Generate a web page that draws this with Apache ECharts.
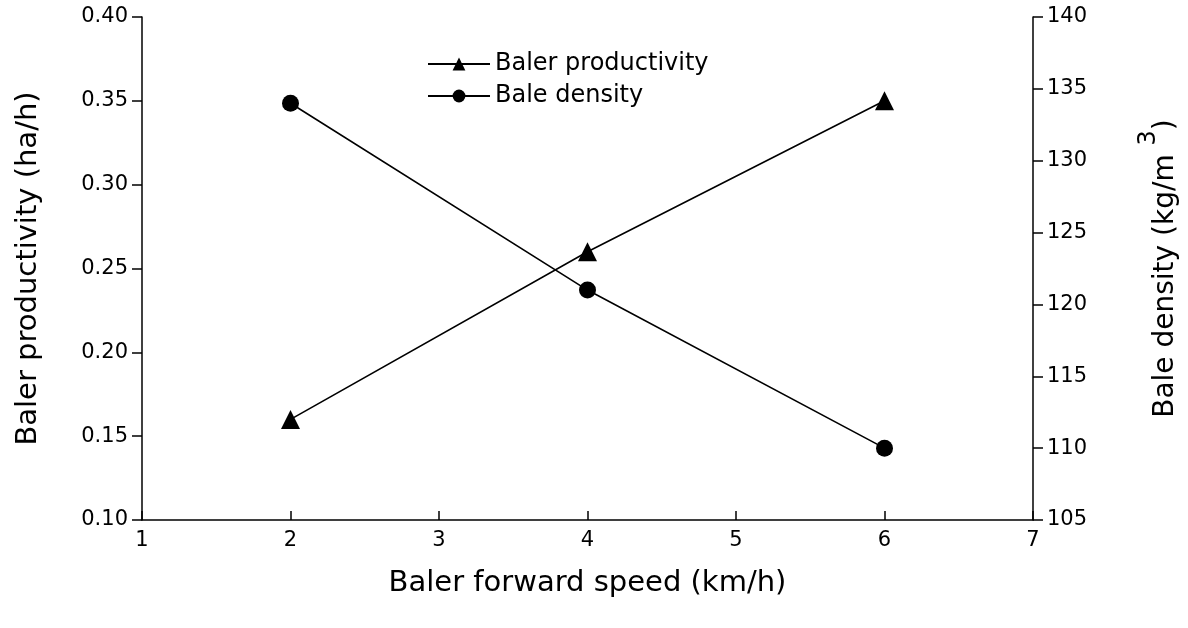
<!DOCTYPE html>
<html>
<head>
<meta charset="utf-8">
<script src="https://cdn.jsdelivr.net/npm/echarts@6/dist/echarts.min.js"></script>
<style>html,body{margin:0;padding:0;background:#fff;}#c{width:1188px;height:628px;}</style>
</head>
<body>
<div id="c"></div>
<script>
const speeds = [2, 4, 6];
const productivity = [0.16, 0.26, 0.35];
const density = [134, 121, 110];
const seriesNames = ['Baler productivity', 'Bale density'];
const xTitle = 'Baler forward speed (km/h)';
const yLeftTitle = 'Baler productivity (ha/h)';

const FONT = 'DejaVu Sans, sans-serif';
const chart = echarts.init(document.getElementById('c'), null, {renderer: 'canvas'});
const axisCommon = {
  axisLine: {show: true, onZero: false, lineStyle: {color: '#000', width: 1.5}},
  axisTick: {show: true, length: 10, lineStyle: {color: '#000', width: 1.5}},
  splitLine: {show: false},
  axisLabel: {color: '#000', fontFamily: FONT, fontSize: 21},
  nameTextStyle: {color: '#000', fontFamily: FONT, fontSize: 29}
};
chart.setOption({
  animation: false,
  backgroundColor: '#fff',
  grid: {left: 142, right: 155, top: 17, bottom: 108, containLabel: false, outerBoundsMode: 'none'},
  legend: {
    orient: 'vertical', left: 422, top: 47,
    itemWidth: 62, itemHeight: 16, itemGap: 8,
    textStyle: {color: '#000', fontFamily: FONT, fontSize: 24},
    data: seriesNames
  },
  xAxis: Object.assign({}, axisCommon, {
    type: 'value', min: 1, max: 7, interval: 1,
    axisTick: {show: true, inside: true, length: 9, lineStyle: {color: '#000', width: 1.5}},
    axisLabel: Object.assign({}, axisCommon.axisLabel, {margin: 10}),
    name: xTitle, nameLocation: 'middle', nameGap: 49
  }),
  yAxis: [
    Object.assign({}, axisCommon, {
      type: 'value', position: 'left', min: 0.1, max: 0.4, interval: 0.05,
      axisLabel: Object.assign({}, axisCommon.axisLabel, {margin: 14, formatter: v => v.toFixed(2)}),
      name: yLeftTitle, nameLocation: 'middle', nameGap: 99, nameRotate: 90
    }),
    Object.assign({}, axisCommon, {
      type: 'value', position: 'right', min: 105, max: 140, interval: 5,
      axisLabel: Object.assign({}, axisCommon.axisLabel, {margin: 14}),
      name: 'Bale density (kg/m {sup|3})', nameLocation: 'middle', nameGap: 104, nameRotate: 90,
      nameTextStyle: {color: '#000', fontFamily: FONT, fontSize: 28,
        rich: {sup: {color: '#000', fontFamily: FONT, fontSize: 24, padding: [0, 0, 34, 0]}}}
    })
  ],
  series: [
    {
      name: seriesNames[0], type: 'line', yAxisIndex: 0,
      data: speeds.map((s, i) => [s, productivity[i]]),
      symbol: 'triangle', symbolSize: 19,
      lineStyle: {color: '#000', width: 1.6},
      itemStyle: {color: '#000'}
    },
    {
      name: seriesNames[1], type: 'line', yAxisIndex: 1,
      data: speeds.map((s, i) => [s, density[i]]),
      symbol: 'circle', symbolSize: 17,
      lineStyle: {color: '#000', width: 1.6},
      itemStyle: {color: '#000'}
    }
  ]
});
</script>
</body>
</html>
